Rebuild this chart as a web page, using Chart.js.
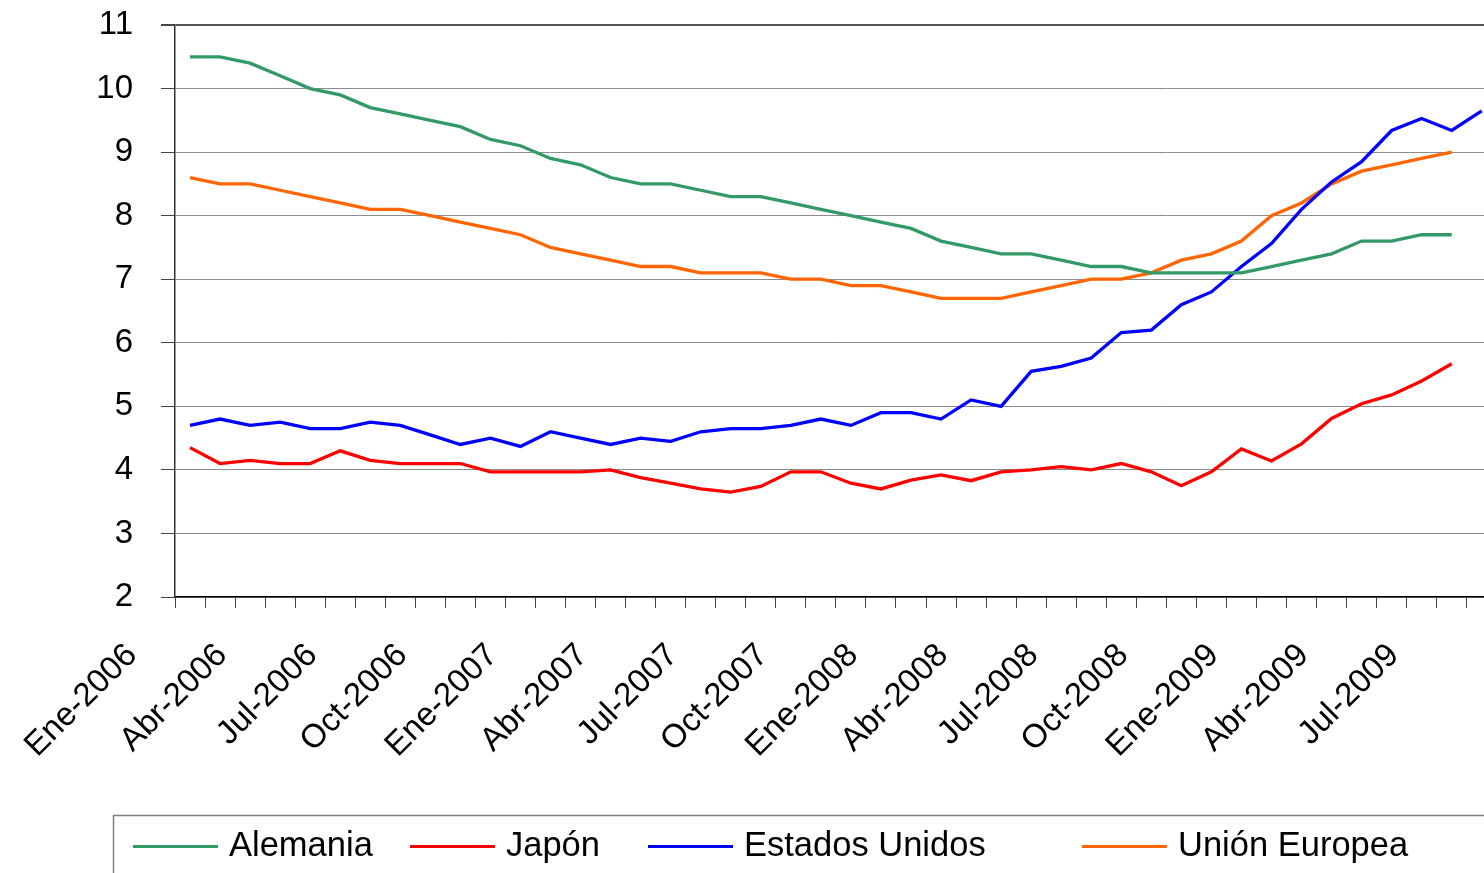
<!DOCTYPE html>
<html>
<head>
<meta charset="utf-8">
<script src="https://cdn.jsdelivr.net/npm/chart.js@4/dist/chart.umd.min.js"></script>
<style>
  html, body { margin: 0; padding: 0; background: #fff; overflow: hidden; }
  canvas { display: block; }
</style>
</head>
<body>
<canvas id="chart" width="1538" height="873"></canvas>
<script>
// months, Ene-2006 .. Ago-2009
const months = [
  'Ene-2006','Feb-2006','Mar-2006','Abr-2006','May-2006','Jun-2006','Jul-2006','Ago-2006','Sep-2006','Oct-2006','Nov-2006','Dic-2006',
  'Ene-2007','Feb-2007','Mar-2007','Abr-2007','May-2007','Jun-2007','Jul-2007','Ago-2007','Sep-2007','Oct-2007','Nov-2007','Dic-2007',
  'Ene-2008','Feb-2008','Mar-2008','Abr-2008','May-2008','Jun-2008','Jul-2008','Ago-2008','Sep-2008','Oct-2008','Nov-2008','Dic-2008',
  'Ene-2009','Feb-2009','Mar-2009','Abr-2009','May-2009','Jun-2009','Jul-2009','Ago-2009'
];

const alemania = [
  10.5, 10.5, 10.4, 10.2, 10.0, 9.9, 9.7, 9.6, 9.5, 9.4, 9.2,
  9.1, 8.9, 8.8, 8.6, 8.5, 8.5, 8.4, 8.3, 8.3, 8.2, 8.1, 8.0, 7.9, 7.8, 7.6, 7.5,
  7.4, 7.4, 7.3, 7.2, 7.2, 7.1, 7.1, 7.1, 7.1, 7.2, 7.3, 7.4, 7.6, 7.6, 7.7, 7.7
];
const japon = [
  4.35, 4.1, 4.15, 4.1, 4.1, 4.3, 4.15, 4.1, 4.1, 4.1, 3.97,
  3.97, 3.97, 3.97, 4.0, 3.88, 3.79, 3.7, 3.65, 3.74, 3.97, 3.97, 3.79, 3.7, 3.84, 3.92, 3.83,
  3.97, 4.0, 4.05, 4.0, 4.1, 3.97, 3.75, 3.97, 4.33, 4.14, 4.41, 4.81, 5.04, 5.18, 5.4, 5.67
];
const eeuu = [
  4.7, 4.8, 4.7, 4.75, 4.65, 4.65, 4.75, 4.7, 4.55, 4.4, 4.5,
  4.37, 4.6, 4.5, 4.4, 4.5, 4.45, 4.6, 4.65, 4.65, 4.7, 4.8, 4.7, 4.9, 4.9, 4.8, 5.1,
  5.0, 5.55, 5.63, 5.76, 6.16, 6.2, 6.6, 6.8, 7.2, 7.56, 8.1, 8.53, 8.85, 9.34, 9.53, 9.34, 9.65
];
const ue = [
  8.6, 8.5, 8.5, 8.4, 8.3, 8.2, 8.1, 8.1, 8.0, 7.9, 7.8,
  7.7, 7.5, 7.4, 7.3, 7.2, 7.2, 7.1, 7.1, 7.1, 7.0, 7.0, 6.9, 6.9, 6.8, 6.7, 6.7,
  6.7, 6.8, 6.9, 7.0, 7.0, 7.1, 7.3, 7.4, 7.6, 8.0, 8.2, 8.5, 8.7, 8.8, 8.9, 9.0
];

const seriesNames = ['Alemania', 'Japón', 'Estados Unidos', 'Unión Europea'];
const seriesColors = ['#339966', '#ff0000', '#0000ff', '#ff6600'];
const yTicks = [2, 3, 4, 5, 6, 7, 8, 9, 10, 11];

const FONT = '"Liberation Sans", Arial, sans-serif';

// legend sits in a box under the axis labels (excel style)
const legendX = [133, 410, 648, 1082];
const boxLegend = {
  id: 'boxLegend',
  afterDraw(chart) {
    const ctx = chart.ctx;
    ctx.save();
    ctx.strokeStyle = '#7f7f7f';
    ctx.lineWidth = 1.5;
    ctx.strokeRect(113.5, 815.5, 1500, 200);
    ctx.font = '34.5px ' + FONT;
    ctx.textBaseline = 'middle';
    chart.data.datasets.forEach((ds, i) => {
      const x = legendX[i];
      ctx.strokeStyle = ds.borderColor;
      ctx.lineWidth = 3.2;
      ctx.beginPath();
      ctx.moveTo(x, 846.5);
      ctx.lineTo(x + 85, 846.5);
      ctx.stroke();
      ctx.fillStyle = '#000';
      ctx.fillText(ds.label, x + 96, 846);
    });
    ctx.restore();
  }
};

const datasets = [alemania, japon, eeuu, ue].map((d, i) => ({
  label: seriesNames[i],
  data: d,
  borderColor: seriesColors[i],
  backgroundColor: seriesColors[i],
  borderWidth: 3.3,
  pointRadius: 0,
  tension: 0,
  fill: false
}));

new Chart(document.getElementById('chart'), {
  type: 'line',
  data: { labels: months, datasets },
  plugins: [boxLegend],
  options: {
    responsive: false,
    animation: false,
    layout: { padding: { top: 25, right: 21, left: 0, bottom: 0 } },
    plugins: { legend: { display: false }, tooltip: { enabled: false } },
    scales: {
      x: {
        offset: true,
        afterFit(scale) {
          scale.height = 276;
          scale.paddingTop = 0;
          scale.paddingBottom = 0;
        },
        border: { color: '#000', width: 1.5 },
        grid: { drawOnChartArea: false, offset: true, tickLength: 11, tickColor: '#444', lineWidth: 1 },
        ticks: {
          autoSkip: false,
          minRotation: 45,
          maxRotation: 45,
          labelOffset: -58,
          padding: 28,
          color: '#000',
          font: { family: FONT, size: 33 },
          callback(v, i) { return i % 3 === 0 ? this.getLabelForValue(v) : ''; }
        }
      },
      y: {
        min: yTicks[0],
        max: yTicks[yTicks.length - 1],
        afterFit(scale) {
          scale.width = 175;
          scale.paddingTop = 0;
          scale.paddingBottom = 0;
        },
        afterBuildTicks(scale) { scale.ticks = yTicks.map(v => ({ value: v })); },
        border: { color: '#333', width: 1.5 },
        grid: {
          color: c => c.tick && c.tick.value === 11 ? '#555' : '#8c8c8c',
          lineWidth: c => c.tick && c.tick.value === 11 ? 2 : 1,
          tickLength: 14,
          tickColor: '#444'
        },
        ticks: {
          padding: 28,
          color: '#000',
          font: { family: FONT, size: 33 }
        }
      }
    }
  }
});
</script>
</body>
</html>
